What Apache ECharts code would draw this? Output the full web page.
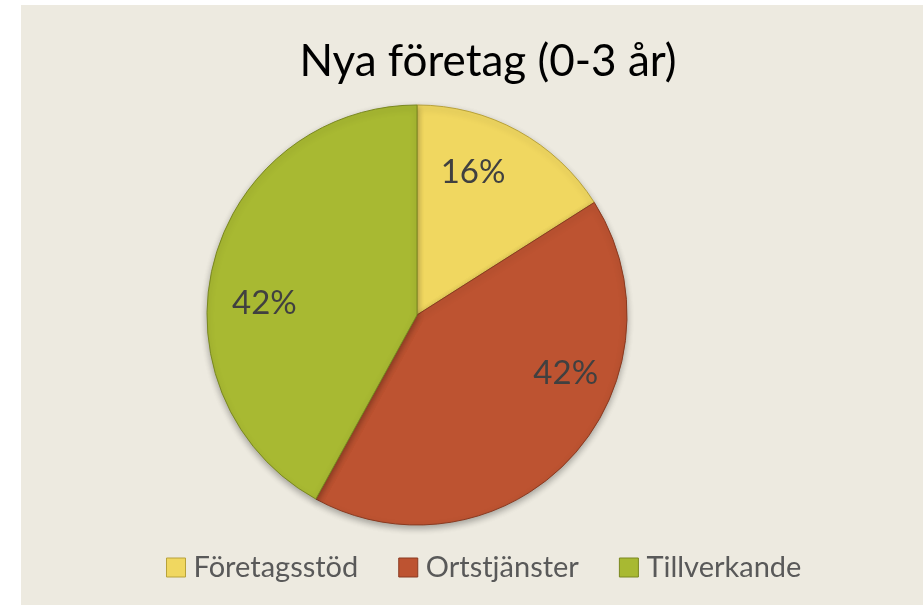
<!DOCTYPE html>
<html>
<head>
<meta charset="utf-8">
<script src="https://cdn.jsdelivr.net/npm/echarts@6/dist/echarts.min.js"></script>
<style>
html,body{margin:0;padding:0;background:#ffffff;}
#chart{width:923px;height:605px;}
</style>
</head>
<body>
<div id="chart"></div>
<script>
const titleText = 'Nya företag (0-3 år)';
const categories = ['Företagsstöd', 'Ortstjänster', 'Tillverkande'];
const values = [16, 42, 42];

const colors = ['#F0D760', '#BD5331', '#A8B932'];
const borders = ['#B8A23A', '#8A3A20', '#7A8820'];
const labelShift = [[4, -48], [70, -16], [-48, 15]];

const chart = echarts.init(document.getElementById('chart'));
chart.setOption({
  backgroundColor: '#ffffff',
  animation: false,
  graphic: [{
    type: 'rect', z: -10, silent: true,
    shape: { x: 21, y: 5, width: 902, height: 600 },
    style: { fill: '#EDEAE0' }
  }],
  title: {
    text: titleText,
    left: 483, top: 35, textAlign: 'center',
    textStyle: { fontFamily: 'Lato', fontSize: 44, fontWeight: 'normal', color: '#000000' }
  },
  legend: {
    top: 548, left: 161,
    itemWidth: 19, itemHeight: 19, itemGap: 40,
    icon: 'rect',
    textStyle: { fontFamily: 'Lato', fontSize: 29, color: '#595959', padding: [0, 0, 0, 3] },
    data: categories.map((c, i) => ({
      name: c,
      itemStyle: { color: colors[i], borderColor: borders[i], borderWidth: 1 }
    }))
  },
  series: [{
    type: 'pie',
    center: [417, 315],
    radius: 210,
    startAngle: 90,
    clockwise: true,
    label: {
      show: true, position: 'inside',
      formatter: '{d}%',
      fontFamily: 'Lato', fontSize: 33, color: '#404040'
    },
    labelLine: { show: false },
    labelLayout: function (p) {
      return { dx: labelShift[p.dataIndex][0], dy: labelShift[p.dataIndex][1] };
    },
    itemStyle: {
      shadowBlur: 6, shadowColor: 'rgba(0,0,0,0.3)', shadowOffsetY: 3
    },
    data: categories.map((c, i) => ({
      name: c, value: values[i],
      itemStyle: { color: colors[i], borderColor: borders[i], borderWidth: 1 }
    }))
  }]
});
</script>
</body>
</html>
